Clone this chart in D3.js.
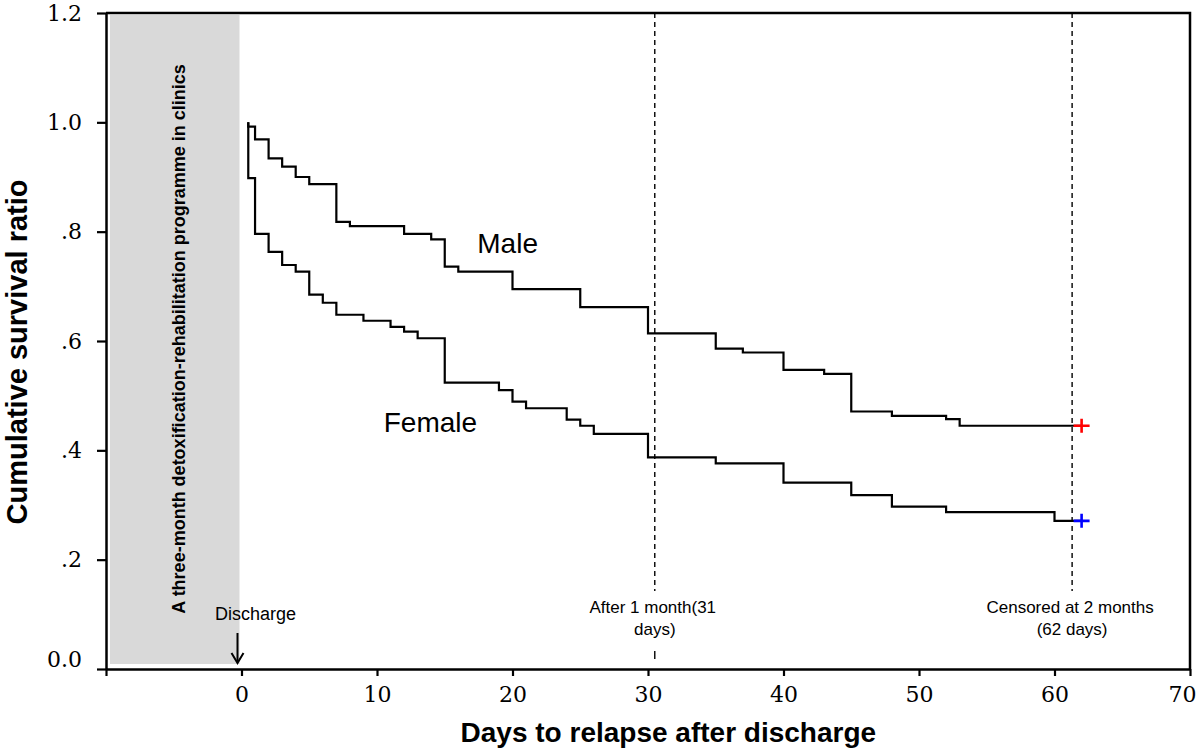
<!DOCTYPE html>
<html>
<head>
<meta charset="utf-8">
<script src="https://cdn.jsdelivr.net/npm/d3@7"></script>
<style>
  body { margin: 0; background: #fff; }
  svg { display: block; }
</style>
</head>
<body>
<svg id="viz" width="1200" height="751"></svg>
<script>
// Kaplan-Meier step data (day of drop, survival after it)
var maleDays = [0.5, 0.5, 1, 2, 3, 4, 5, 7, 8, 12, 14, 15, 16, 20, 25, 30, 35, 37, 40, 43, 45, 48, 52, 53, 62];
var maleSurv = [1.0, 0.992, 0.969, 0.934, 0.919, 0.900, 0.887, 0.818, 0.810, 0.796, 0.786, 0.736, 0.727, 0.695, 0.662, 0.614, 0.586, 0.579, 0.547, 0.540, 0.471, 0.463, 0.457, 0.445, 0.445];

var femaleDays = [0.5, 0.5, 1, 2, 3, 4, 5, 6, 7, 9, 11, 12, 13, 15, 19, 20, 21, 24, 25, 26, 30, 35, 40, 45, 48, 52, 60, 62];
var femaleSurv = [1.0, 0.898, 0.796, 0.763, 0.739, 0.727, 0.685, 0.670, 0.648, 0.637, 0.626, 0.617, 0.605, 0.524, 0.510, 0.489, 0.477, 0.456, 0.445, 0.430, 0.387, 0.376, 0.341, 0.318, 0.297, 0.287, 0.271, 0.271];

var censorDay = 62;

var xTicks = [-10, 0, 10, 20, 30, 40, 50, 60, 70];
var xTickLabels = ["", "0", "10", "20", "30", "40", "50", "60", "70"];
var yTicks = [0, 0.2, 0.4, 0.6, 0.8, 1.0, 1.2];
var yTickLabels = ["0.0", ".2", ".4", ".6", ".8", "1.0", "1.2"];

// reference lines (where they sit on the axis) and their labels
var refLines = [30.5, 61.3];
var refLabels = [["After 1 month(31", "days)"], ["Censored at 2 months", "(62 days)"]];

function drawSurvivalGraph() {
	var margin = { left: 106, right: 10, top: 13, bottom: 82 };
	var width = 1200;
	var height = 751;
	var innerWidth = width - margin.left - margin.right;
	var innerHeight = height - margin.top - margin.bottom;

	var x = d3.scaleLinear().domain([-10, 70]).range([0, innerWidth]);
	var y = d3.scaleLinear().domain([0, 1.2]).range([innerHeight, 0]);

	var svg = d3.select("#viz");
	var g = svg.append("g")
		.attr("transform", "translate(" + margin.left + "," + margin.top + ")");

	// grey treatment period band
	g.append("rect")
		.attr("x", x(-10) + 4)
		.attr("y", 2)
		.attr("width", x(0) - x(-10) - 6)
		.attr("height", innerHeight - 7)
		.attr("fill", "#d9d9d9");

	g.append("text")
		.attr("transform", "translate(" + (x(-5) + 11) + "," + (y(0.6) - 2) + ") rotate(-90)")
		.attr("text-anchor", "middle")
		.style("font-family", "Liberation Sans, Arial, sans-serif")
		.style("font-weight", "bold")
		.style("font-size", "18px")
		.text("A three-month detoxification-rehabilitation programme in clinics");

	// discharge arrow
	g.append("text")
		.attr("x", x(0) + 14)
		.attr("y", y(0) - 49)
		.attr("text-anchor", "middle")
		.style("font-family", "Liberation Sans, Arial, sans-serif")
		.style("font-size", "18px")
		.text("Discharge");
	g.append("line")
		.attr("x1", x(0) - 4).attr("x2", x(0) - 4)
		.attr("y1", y(0) - 36).attr("y2", y(0) - 7)
		.attr("stroke", "#000").attr("stroke-width", 2);
	g.append("path")
		.attr("d", "M" + (x(0) - 10) + "," + (y(0) - 16) + " L" + (x(0) - 4) + "," + (y(0) - 6) + " L" + (x(0) + 2) + "," + (y(0) - 16))
		.attr("fill", "none").attr("stroke", "#000").attr("stroke-width", 2);

	// dashed reference lines
	refLines.forEach(function (d, i) {
		g.append("line")
			.attr("x1", x(d)).attr("x2", x(d))
			.attr("y1", 0).attr("y2", y(0) - 78)
			.attr("stroke", "#000")
			.attr("stroke-width", 1.4)
			.attr("stroke-dasharray", "5,4");
		var t = g.append("text")
			.attr("text-anchor", "middle")
			.style("font-family", "Liberation Sans, Arial, sans-serif")
			.style("font-size", "17px");
		t.append("tspan").attr("x", x(d) - 2).attr("y", y(0) - 56).text(refLabels[i][0]);
		t.append("tspan").attr("x", x(d)).attr("y", y(0) - 34).text(refLabels[i][1]);
	});
	g.append("line")
		.attr("x1", x(refLines[0])).attr("x2", x(refLines[0]))
		.attr("y1", y(0) - 18).attr("y2", y(0) - 10)
		.attr("stroke", "#000").attr("stroke-width", 1.4);

	// step curves
	var line = d3.line()
		.x(function (d) { return x(d[0]); })
		.y(function (d) { return y(d[1]); })
		.curve(d3.curveStepAfter);

	g.append("path")
		.datum(d3.zip(maleDays, maleSurv))
		.attr("d", line)
		.attr("fill", "none").attr("stroke", "#000").attr("stroke-width", 2.2);

	g.append("path")
		.datum(d3.zip(femaleDays, femaleSurv))
		.attr("d", line)
		.attr("fill", "none").attr("stroke", "#000").attr("stroke-width", 2.2);

	// censor marks
	var censors = [
		{ v: maleSurv[maleSurv.length - 1], c: "#ff0000" },
		{ v: femaleSurv[femaleSurv.length - 1], c: "#0000ff" }
	];
	censors.forEach(function (d) {
		var cx = x(censorDay), cy = y(d.v);
		g.append("path")
			.attr("d", "M" + (cx - 8) + "," + cy + "H" + (cx + 8) + "M" + cx + "," + (cy - 7) + "V" + (cy + 7))
			.attr("stroke", d.c).attr("stroke-width", 2.6);
	});

	// series labels
	g.append("text")
		.attr("x", x(17.4)).attr("y", y(0.761))
		.style("font-family", "Liberation Sans, Arial, sans-serif")
		.style("font-size", "28px")
		.text("Male");
	g.append("text")
		.attr("x", x(10.5)).attr("y", y(0.434))
		.style("font-family", "Liberation Sans, Arial, sans-serif")
		.style("font-size", "28px")
		.text("Female");

	// frame
	g.append("path")
		.attr("d", "M0,0H" + innerWidth + "V" + innerHeight)
		.attr("fill", "none").attr("stroke", "#000").attr("stroke-width", 2.5);

	// axes
	var xAxis = d3.axisBottom(x)
		.tickValues(xTicks)
		.tickSize(7)
		.tickSizeOuter(0)
		.tickPadding(10)
		.tickFormat(function (d, i) { return xTickLabels[i]; });
	var yAxis = d3.axisLeft(y)
		.tickValues(yTicks)
		.tickSize(9)
		.tickSizeOuter(0)
		.tickPadding(15)
		.tickFormat(function (d, i) { return yTickLabels[i]; });

	var gx = g.append("g")
		.attr("transform", "translate(0," + innerHeight + ")")
		.call(xAxis);
	var gy = g.append("g").call(yAxis);

	[gx, gy].forEach(function (ax) {
		ax.select(".domain").attr("stroke-width", 2.5);
		ax.selectAll(".tick line").attr("stroke-width", 2.2);
		ax.selectAll(".tick text")
			.style("font-family", "DejaVu Serif, serif")
			.style("font-size", "22px")
			.attr("fill", "#000");
	});
	// lift the zero label a little as in the source, keep "70" inside the page
	gy.selectAll(".tick text").filter(function (d) { return d === 0; }).attr("y", -10);
	gx.selectAll(".tick text").filter(function (d) { return d === 70; }).attr("x", -8);

	// axis titles
	svg.append("text")
		.attr("transform", "translate(27," + (margin.top + y(0.58)) + ") rotate(-90)")
		.attr("text-anchor", "middle")
		.style("font-family", "Liberation Sans, Arial, sans-serif")
		.style("font-weight", "bold")
		.style("font-size", "29px")
		.text("Cumulative survival ratio");

	svg.append("text")
		.attr("x", margin.left + x(31.5))
		.attr("y", 742)
		.attr("text-anchor", "middle")
		.style("font-family", "Liberation Sans, Arial, sans-serif")
		.style("font-weight", "bold")
		.style("font-size", "28px")
		.text("Days to relapse after discharge");
}

drawSurvivalGraph();
</script>
</body>
</html>
